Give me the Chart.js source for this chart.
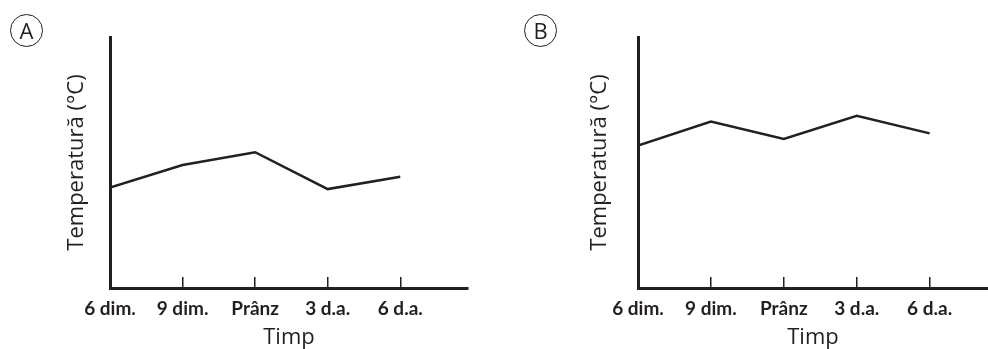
<!DOCTYPE html>
<html>
<head>
<meta charset="utf-8">
<script src="https://cdn.jsdelivr.net/npm/chart.js@4"></script>
<style>
body { margin: 0; background: #fff; }
#wrap { position: relative; width: 988px; height: 349px; overflow: hidden; background: #fff; }
canvas { position: absolute; top: 0; }
#graficA { left: 0; }
#graficB { left: 494px; }
.litera {
    position: absolute; width: 31px; height: 31px;
    border: 1.3px solid #231f20; border-radius: 50%;
    font: 22px 'Open Sans', sans-serif; color: #231f20;
    text-align: center; line-height: 31px;
}
</style>
</head>
<body>
<div id="wrap">
    <canvas id="graficA" width="494" height="349"></canvas>
    <canvas id="graficB" width="494" height="349"></canvas>
    <div class="litera" style="left:10px;top:14px">A</div>
    <div class="litera" style="left:524px;top:14px">B</div>
</div>
<script>
// ora din zi pentru fiecare citire si eticheta ei
const ore = [6, 9, 12, 15, 18];
const etichete = ['6 dim.', '9 dim.', 'Prânz', '3 d.a.', '6 d.a.'];
// temperaturi relative (axa nu are valori)
const temperaturaA = [40.0, 49.0, 54.1, 39.4, 44.3];
const temperaturaB = [56.7, 66.3, 59.4, 68.6, 61.6];

const negru = '#231f20';

function grafic(id, valori, latimeAxaY, margineDreapta, oraMax, pozTitluY) {
    const ctx = document.getElementById(id).getContext('2d');
    return new Chart(ctx, {
        type: 'line',
        data: {
            datasets: [{
                data: ore.map((h, i) => ({ x: h, y: valori[i] })),
                borderColor: negru,
                borderWidth: 2.5,
                pointRadius: 0,
                tension: 0
            }]
        },
        options: {
            responsive: false,
            animation: false,
            layout: { padding: { left: 0, top: 37, right: margineDreapta, bottom: 0 } },
            plugins: { legend: { display: false }, tooltip: { enabled: false } },
            scales: {
                x: {
                    type: 'linear',
                    min: 6,
                    max: oraMax,
                    afterBuildTicks: (scale) => { scale.ticks = ore.map(v => ({ value: v })); },
                    afterFit: (scale) => { scale.height = 61; },
                    border: { display: true, color: negru, width: 3 },
                    grid: { drawOnChartArea: false, drawTicks: true, tickLength: -11, color: negru, lineWidth: 1.5 },
                    ticks: {
                        padding: 22,
                        autoSkip: false,
                        maxRotation: 0,
                        color: negru,
                        // Lato e cel mai ingust font disponibil
                        font: { family: "Lato, 'Open Sans', sans-serif", weight: 'bold', size: 19, lineHeight: 1 },
                        callback: (v, i) => etichete[i]
                    },
                    title: {
                        display: true,
                        text: 'Timp',
                        color: negru,
                        padding: { top: 0, bottom: 0 },
                        font: { family: "'Open Sans', sans-serif", size: 22, lineHeight: 1 }
                    }
                },
                y: {
                    min: 0,
                    max: 100,
                    afterFit: (scale) => { scale.width = latimeAxaY; },
                    border: { display: true, color: negru, width: 3 },
                    grid: { drawOnChartArea: false, drawTicks: false },
                    ticks: { display: false },
                    title: {
                        display: true,
                        text: 'Temperatură (°C)',
                        color: negru,
                        padding: { top: pozTitluY, bottom: 0 },
                        font: { family: "'Open Sans', sans-serif", size: 22, lineHeight: 1 }
                    }
                }
            }
        }
    });
}

grafic('graficA', temperaturaA, 110, 26, 20.8, 66);
grafic('graficB', temperaturaB, 144, 0, 20.4, 95);
</script>
</body>
</html>
